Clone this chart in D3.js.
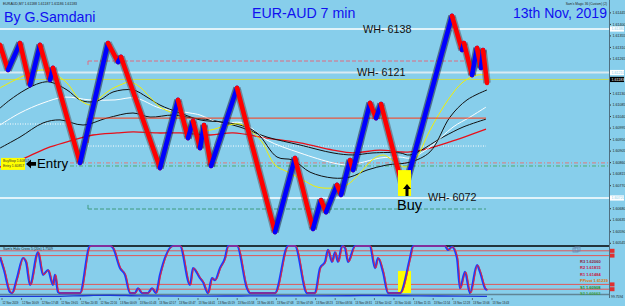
<!DOCTYPE html>
<html><head><meta charset="utf-8">
<script src="https://cdn.jsdelivr.net/npm/d3@7/dist/d3.min.js"></script>
<style>
html,body{margin:0;padding:0;background:#87ceeb;overflow:hidden;}
svg{display:block;font-family:Arial,"Liberation Sans",sans-serif;}
</style></head><body>
<svg id="chart"></svg>
<script>
let width=625, height=306;
let plotRight=609;
let mainBottom=244;
let subTop=246, subBottom=294;

// renko zigzag turning points (bar, price)
let pivotBars=[0,1.6,4,6,8,10,10.6,16,21.6,23.6,24.2,32,35.6,37.6,38.6,40,40.8,42.2,47.4,55,59,62.6,64.2,65.2,67.4,68.2,70,70.6,74,75.2,76.2,80.8,90.4,92.4,92.8,94.4,95.4,96.2,96.6,97.4];
let pivotPrices=[1.61318,1.61220,1.61325,1.61161,1.61318,1.61181,1.61228,1.60857,1.61325,1.61251,1.61271,1.60837,1.61103,1.60954,1.61021,1.60915,1.61005,1.60845,1.61150,1.60587,1.60876,1.60599,1.60712,1.60665,1.60771,1.60732,1.60868,1.60829,1.61091,1.61032,1.61087,1.60743,1.61431,1.61298,1.61325,1.61200,1.61306,1.61228,1.61298,1.61169];

// moving averages
let yellowBars=[0,3,6.6,8.6,10.6,13.4,16,18.4,20,22,24,26,28,30,32,34.4,36.4,39,42,45,48,50.4,52.4,55,57.6,60.6,63.4,66.6,69.4,72,74.4,76.6,79,81,83,86,89.6,92.6,95.4,97.4];
let yellowPrices=[1.61150,1.61181,1.61212,1.61220,1.61208,1.61169,1.61103,1.61083,1.61111,1.61142,1.61161,1.61173,1.61153,1.61114,1.61075,1.61052,1.61025,1.60985,1.60985,1.61001,1.61009,1.60978,1.60939,1.60849,1.60821,1.60790,1.60763,1.60759,1.60771,1.60817,1.60868,1.60888,1.60860,1.60841,1.60868,1.60985,1.61103,1.61173,1.61200,1.61200];
let fastBlackBars=[0,2,5,8,10,13.4,16,18,20,22.6,26.6,29.4,32,36,40,44,48,51.4,55.4,58.6,62,66.6,70,73.4,77.4,82,86,90,93.4,97.4];
let fastBlackPrices=[1.61071,1.61103,1.61142,1.61169,1.61173,1.61142,1.61103,1.61095,1.61103,1.61134,1.61142,1.61114,1.61083,1.61052,1.61025,1.61017,1.61005,1.60974,1.60880,1.60868,1.60821,1.60798,1.60802,1.60829,1.60849,1.60860,1.60900,1.61036,1.61103,1.61142];
let slowBlackBars=[0,4,8.6,12,16.6,21.4,26.6,30,34.6,38.6,42,48,53.4,60,66.6,70.6,74.6,80,82,88.6,92.6,97.2];
let slowBlackPrices=[1.60915,1.60958,1.61013,1.61025,1.61005,1.61032,1.61052,1.61036,1.61044,1.61032,1.61025,1.60997,1.60958,1.60927,1.60896,1.60888,1.60896,1.60896,1.60888,1.60958,1.60997,1.61028];
let whiteBars=[0,4,8.6,13,18,23,27,32,38,40,44,48.6,53.4,60,66.6,69.4,72,76,80,82,86,90.6,94,97.2];
let whitePrices=[1.61005,1.61052,1.61091,1.61114,1.61103,1.61103,1.61111,1.61071,1.61052,1.61044,1.61013,1.61013,1.60946,1.60896,1.60857,1.60849,1.60857,1.60876,1.60880,1.60876,1.60919,1.60997,1.61036,1.61075];
let redBars=[0,4,9.4,13.4,18.6,23.4,26.6,31.4,36,42,46.6,53.4,60,66.6,70.6,76,80,82,86,90,97.2];
let redPrices=[1.60841,1.60868,1.60915,1.60939,1.60966,1.60974,1.60978,1.60974,1.60974,1.60966,1.60974,1.60954,1.60935,1.60907,1.60896,1.60907,1.60900,1.60900,1.60915,1.60939,1.60989];

// horizontal levels
let whPrices=[1.61380,1.61210,1.60720];
let whLabels=['WH- 6138','WH- 6121','WH- 6072'];
let whLabelBars=[72.6,71.4,85.6];
let bidPrice=1.61183;
let pinkDashPrice=1.61255, orangePrice=1.61032, orangeStubPrice=1.60935;
let dotWhitePrices=[1.61009,1.60923];
let entryRedPrice=1.60857, entryGreenPrice=1.60845, stopGreenPrice=1.60677;
let boxStartBar=17.6, boxEndBar=97.2;

// tick labels (those hidden under the price boxes are left out)
let priceTicks=[1.61445,1.61400,1.61355,1.61310,1.61265,1.61130,1.61085,1.61040,1.60995,1.60950,1.60905,1.60860,1.60815,1.60770,1.60680,1.60635,1.60590,1.60545];

// oscillator sub-window
let oscBars=[0,0.8,2,2.4,3.4,4.6,5.2,6,7.6,8.6,9.6,10.6,11,11.6,12,16,18,22,22.6,24,25,26,27,27.6,28.4,29.6,30.4,31.2,32,34.6,36,38,38.6,40,40.6,41.6,42.4,43,44,45,45.6,47.4,49.4,50,55,57.6,59,61.4,63,64,65,65.6,66.4,67,67.6,68.4,69,69.6,71,74,75,75.6,76.6,77.6,80,82,82.6,89,89.6,90.4,91.4,92,93,94,95.4,96,97,97.4];
let oscValues=[77,50,4,2,33,75,67,19,87,40,50,19,40,4,2,2,100,100,96,54,40,2,2,12,2,2,12,2,40,100,100,19,54,33,25,2,33,29,54,75,100,100,12,2,2,100,100,2,2,54,67,92,67,87,67,100,96,67,100,100,54,75,46,2,2,75,100,100,92,98,75,12,46,2,60,46,12,8];
let oscLevels=[90,80,20,10];
let lowBars=[0,10,18,22,28,40,50,60,70,76,84,92,97.4];
let lowValues=[-5,-5,-3,-2.5,-4,-4.5,-4,-4,-3.5,-3,-4,-4.5,-5];
let pivotNames=['R3 1.62060','R2 1.61815','R1 1.61484','PPivot 1.61239','S1 1.60908','S2 1.60663'];
let pivotColors=['#8b1a3a','#c8143c','#c8143c','#e07000','#1a8a1a','#3aa03a'];

// time axis
let dateBars=[0.4,4.32,8.24,12.16,16.08,20,23.92,27.84,31.76,35.68,39.6,43.52,47.44,51.36,55.28,59.2,63.12,67.04,70.96,74.88,78.8,82.72,86.64,90.56,94.48,98.4];
let dateLabels=['12 Nov 2019','12 Nov 16:09','12 Nov 17:48','12 Nov 19:05','12 Nov 20:33','12 Nov 22:16','13 Nov 00:09','13 Nov 01:43','13 Nov 02:57','13 Nov 03:47','13 Nov 04:41','13 Nov 05:19','13 Nov 05:58','13 Nov 06:35','13 Nov 07:08','13 Nov 07:49','13 Nov 08:23','13 Nov 08:56','13 Nov 09:31','13 Nov 10:02','13 Nov 10:40','13 Nov 11:15','13 Nov 11:54','13 Nov 12:28','13 Nov 13:06','13 Nov 13:43'];

let svg=d3.select('#chart').attr('width',width).attr('height',height);
svg.append('rect').attr('width',width).attr('height',height).attr('fill','#87ceeb');

let xScale=d3.scaleLinear().domain([0,121.8]).range([0,plotRight]);
let yScale=d3.scaleLinear().domain([1.605403,1.614933]).range([mainBottom,0]);
let oscScale=d3.scaleLinear().domain([0,100]).range([subBottom,subTop]);

let hline=(price,b0,b1,color,w,dash,op)=>{
  svg.append('line')
    .attr('x1',xScale(b0)).attr('x2',xScale(b1))
    .attr('y1',yScale(price)).attr('y2',yScale(price))
    .attr('stroke',color).attr('stroke-width',w)
    .attr('stroke-dasharray',dash||null)
    .attr('opacity',op||1);
};
let vstub=(bar,p0,p1,color)=>{
  svg.append('line')
    .attr('x1',xScale(bar)).attr('x2',xScale(bar))
    .attr('y1',yScale(p0)).attr('y2',yScale(p1))
    .attr('stroke',color).attr('stroke-width',1);
};
let endBar=121.8;

// levels
hline(whPrices[0],0,endBar,'#ffffff',1.5);
hline(whPrices[1],0,endBar,'#e4eef3',2,null,0.9);
hline(bidPrice,0,endBar,'#c8dc50',1);
hline(whPrices[2],0,endBar,'#ffffff',1.5);
hline(pinkDashPrice,boxStartBar,boxEndBar,'#e06a80',1,'4,2');
vstub(boxStartBar,pinkDashPrice,pinkDashPrice-0.00015,'#e06a80');
hline(dotWhitePrices[0],0,14,'#ffffff',1,'1,1.5');
hline(dotWhitePrices[1],boxStartBar,boxEndBar,'#ffffff',1,'1,1.5');
hline(entryRedPrice,14,endBar,'#e0787a',1,'4,2,1,2');
hline(entryGreenPrice,14,endBar,'#4fae6e',1,'4,2,1,2');
hline(stopGreenPrice,boxStartBar,boxEndBar,'#3f9a7e',1,'4,2');
vstub(boxStartBar,stopGreenPrice,stopGreenPrice+0.00016,'#3f9a7e');

// moving averages
let maLine=d3.line().x(d=>xScale(d[0])).y(d=>yScale(d[1])).curve(d3.curveCatmullRom.alpha(0.5));
let drawMa=(bars,prices,color,w)=>{
  svg.append('path').datum(d3.zip(bars,prices))
    .attr('d',maLine).attr('fill','none')
    .attr('stroke',color).attr('stroke-width',w);
};
drawMa(redBars,redPrices,'#e8101a',1.3);
drawMa(slowBlackBars,slowBlackPrices,'#111111',1);
drawMa(whiteBars,whitePrices,'#ffffff',1);
drawMa(fastBlackBars,fastBlackPrices,'#111111',1);
drawMa(yellowBars,yellowPrices,'#f4f000',1);

// orange box line
hline(orangePrice,boxStartBar,boxEndBar,'#ff3a14',1);
vstub(boxStartBar,orangePrice,orangeStubPrice,'#ff3a14');

// renko legs
let legs=d3.range(pivotBars.length-1).map(i=>({
  b0:pivotBars[i],p0:pivotPrices[i],b1:pivotBars[i+1],p1:pivotPrices[i+1]
}));
let legG=svg.append('g');
legG.selectAll('line.shadow').data(legs).enter().append('line')
  .attr('class','shadow')
  .attr('x1',d=>xScale(d.b0)).attr('y1',d=>yScale(d.p0))
  .attr('x2',d=>xScale(d.b1)).attr('y2',d=>yScale(d.p1))
  .attr('stroke',d=>d.p1<d.p0?'#5a4a50':'#141430')
  .attr('stroke-width',7.5)
  .attr('opacity',0.5);
legG.selectAll('line.body').data(legs).enter().append('line')
  .attr('class','body')
  .attr('x1',d=>xScale(d.b0)).attr('y1',d=>yScale(d.p0))
  .attr('x2',d=>xScale(d.b1)).attr('y2',d=>yScale(d.p1))
  .attr('stroke',d=>d.p1<d.p0?'#ff0000':'#0000ff')
  .attr('stroke-width',4.6).attr('stroke-linecap','round');

// WH labels
svg.selectAll('text.wh').data(whPrices).enter().append('text')
  .attr('class','wh')
  .attr('x',(d,i)=>xScale(whLabelBars[i]))
  .attr('y',d=>yScale(d)+3.5)
  .attr('font-size',10.8).attr('fill','#111')
  .text((d,i)=>whLabels[i]);

// Entry annotation
let eX=xScale(0.2), eY=yScale(entryRedPrice);
svg.append('rect').attr('x',eX).attr('y',eY-5).attr('width',24).attr('height',12).attr('fill','#ffff00');
svg.append('text').attr('x',eX+2).attr('y',eY-0.5).attr('font-size',3.4).attr('fill','#333').text('BuyStop 1.60857');
svg.append('text').attr('x',eX+2).attr('y',eY+4).attr('font-size',3.4).attr('fill','#333').text('Entry 1.60857');
let ax=eX+25;
svg.append('path')
  .attr('d',`M${ax},${eY+1} L${ax+5},${eY-3.5} L${ax+5},${eY-0.8} L${ax+10},${eY-0.8} L${ax+10},${eY+2.8} L${ax+5},${eY+2.8} L${ax+5},${eY+5.5} Z`)
  .attr('fill','#000');
svg.append('text').attr('x',ax+11).attr('y',eY+5.5).attr('font-size',13.3).attr('fill','#000').text('Entry');

// Buy annotation
let bX=xScale(pivotBars[31]), bY=yScale(pivotPrices[31]);
svg.append('rect').attr('x',bX-6).attr('y',bY-22).attr('width',13).attr('height',26).attr('fill','#ffff00');
svg.append('path')
  .attr('d',`M${bX+3},${bY-8} L${bX+7},${bY-3} L${bX+4.5},${bY-3} L${bX+4.5},${bY+4} L${bX+1.5},${bY+4} L${bX+1.5},${bY-3} L${bX-1},${bY-3} Z`)
  .attr('fill','#000');
svg.append('text').attr('x',bX-7).attr('y',bY+18).attr('font-size',14.5).attr('fill','#000').text('Buy');

// titles
svg.append('text').attr('x',4).attr('y',21.5).attr('font-size',14.2).attr('fill','#1010f0').text('By G.Samdani');
svg.append('text').attr('x',252).attr('y',18).attr('font-size',14.2).attr('fill','#1010f0').text('EUR-AUD 7 min');
svg.append('text').attr('x',513).attr('y',18).attr('font-size',14).attr('fill','#1010f0').text('13th Nov, 2019');
svg.append('text').attr('x',3).attr('y',5).attr('font-size',3.5).attr('fill','#222').text('EURAUD,M7  1.61188 1.61187 1.61186 1.61183');
svg.append('text').attr('x',607).attr('y',5).attr('text-anchor','end').attr('font-size',3.2).attr('fill','#222').text("Sam's Magic 36 (Custom) (2)");

// price axis
let yAxis=d3.axisRight(yScale).tickValues(priceTicks).tickFormat(d3.format('.5f')).tickSize(2).tickPadding(1.5);
let axG=svg.append('g').attr('transform',`translate(${plotRight},0)`).call(yAxis);
axG.select('.domain').remove();
axG.selectAll('text').attr('font-size',3.6).attr('fill','#1a1a1a').attr('font-family','Arial,"Liberation Sans",sans-serif');
axG.selectAll('line').attr('stroke','#333');
svg.append('line').attr('x1',plotRight+0.5).attr('x2',plotRight+0.5).attr('y1',0).attr('y2',298).attr('stroke','#4f6f80').attr('stroke-width',1);

// axis price boxes
let boxPrices=[whPrices[0],whPrices[1],bidPrice,whPrices[2]];
let boxFill=['#ffffff','#ffffff','#000000','#ffffff'];
let boxText=['#87ceeb','#87ceeb','#ffffff','#87ceeb'];
svg.selectAll('rect.pbox').data(boxPrices).enter().append('rect')
  .attr('class','pbox').attr('x',plotRight+1).attr('y',d=>yScale(d)-2.6)
  .attr('width',14).attr('height',5.2).attr('fill',(d,i)=>boxFill[i]);
svg.selectAll('text.pbox').data(boxPrices).enter().append('text')
  .attr('class','pbox').attr('x',plotRight+2.5).attr('y',d=>yScale(d)+1.3)
  .attr('font-size',3.6).attr('fill',(d,i)=>boxText[i]).text(d=>d3.format('.5f')(d));

// sub-window
svg.append('line').attr('x1',0).attr('x2',plotRight).attr('y1',subTop).attr('y2',subTop).attr('stroke','#000').attr('stroke-width',1.4);
svg.selectAll('line.lvl').data(oscLevels).enter().append('line')
  .attr('class','lvl').attr('x1',0).attr('x2',plotRight)
  .attr('y1',d=>oscScale(d)).attr('y2',d=>oscScale(d))
  .attr('stroke','#e05858').attr('stroke-width',1);
svg.selectAll('rect.lvl').data(oscLevels).enter().append('rect')
  .attr('class','lvl').attr('x',plotRight+1).attr('y',d=>oscScale(d)-2)
  .attr('width',4.5).attr('height',4).attr('fill','#e03030');
svg.append('rect').attr('x',xScale(79.6)).attr('y',oscScale(48)).attr('width',13).attr('height',oscScale(2)-oscScale(48)).attr('fill','#ffff00');
svg.append('line').attr('x1',0).attr('x2',plotRight).attr('y1',subBottom+0.5).attr('y2',subBottom+0.5).attr('stroke','#5f8596').attr('stroke-width',1.6);
let oscLine=d3.line().x(d=>xScale(d[0])).y(d=>oscScale(d[1])).curve(d3.curveMonotoneX);
svg.append('path').datum(d3.zip(lowBars,lowValues)).attr('d',oscLine).attr('fill','none').attr('stroke','#1c3ad8').attr('stroke-width',1.4);
svg.append('path').datum(d3.zip(oscBars,oscValues)).attr('d',oscLine).attr('fill','none').attr('stroke','#1a3cff').attr('stroke-width',2.2);
svg.append('path').datum(d3.zip(oscBars,oscValues)).attr('d',oscLine).attr('fill','none').attr('stroke','#ff2020').attr('stroke-width',0.9).attr('transform','translate(0.8,0)');
svg.append('text').attr('x',3).attr('y',250).attr('font-size',3.4).attr('fill','#222').text("Sam's Hulu Cross 5 (20s) 1.7509");
svg.append('rect').attr('x',573).attr('y',248).attr('width',5).attr('height',4).attr('fill','none').attr('stroke','#6a88b0').attr('stroke-width',0.8);
svg.append('rect').attr('x',575).attr('y',247).attr('width',5).attr('height',4).attr('fill','none').attr('stroke','#6a88b0').attr('stroke-width',0.8);
svg.selectAll('text.piv').data(pivotNames).enter().append('text')
  .attr('class','piv').attr('x',580).attr('y',(d,i)=>263+i*6.4)
  .attr('font-size',4).attr('font-weight','bold').attr('fill',(d,i)=>pivotColors[i]).text(d=>d);
svg.append('text').attr('x',plotRight+2).attr('y',297.5).attr('font-size',3.4).attr('fill','#222').text('99.7594');

// date axis
svg.selectAll('text.date').data(dateLabels).enter().append('text')
  .attr('class','date').attr('x',(d,i)=>xScale(dateBars[i])+0.5).attr('y',303.5)
  .attr('font-size',2.8).attr('fill','#222').text(d=>d);
svg.selectAll('line.date').data(dateBars).enter().append('line')
  .attr('class','date').attr('x1',d=>xScale(d)).attr('x2',d=>xScale(d))
  .attr('y1',298).attr('y2',300).attr('stroke','#333').attr('stroke-width',0.6);
</script>
</body></html>
